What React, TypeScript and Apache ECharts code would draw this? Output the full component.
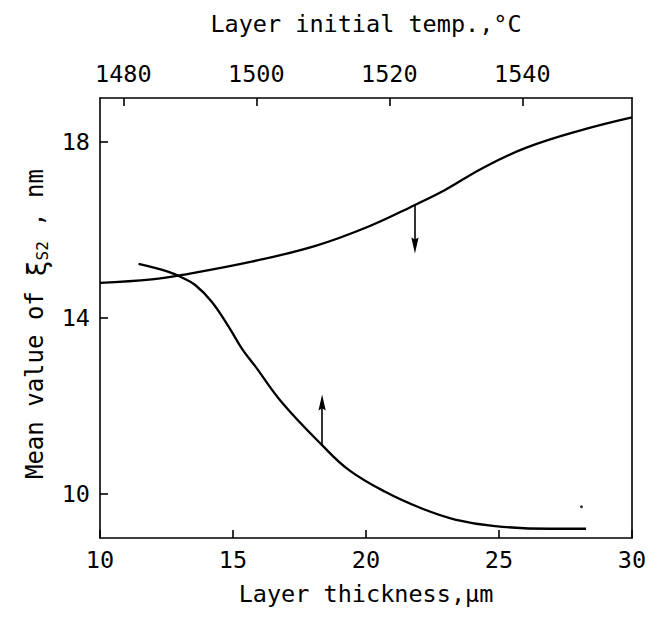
import React, { useEffect, useRef } from "react";
import * as echarts from "echarts";

// Bottom axis: layer thickness (µm)
const thicknessMin = 10;
const thicknessMax = 30;
const thicknessTicks = [10, 15, 20, 25, 30];

// Top axis: layer initial temperature (°C)
const tempMin = 1476.5;
const tempMax = 1556.5;
const tempTicks = [1480, 1500, 1520, 1540];

// Y axis: mean value of xi_S2 (nm)
const yMin = 9;
const yMax = 19;
const yTicks = [10, 14, 18];

// Rising curve (vs layer thickness)
const upperX = [10, 11.95, 13.1, 15.7, 18.1, 20.1, 21.84, 22.97, 24.36, 25.98, 28.1, 30];
const upperY = [14.8, 14.88, 14.98, 15.28, 15.64, 16.08, 16.57, 16.91, 17.4, 17.86, 18.27, 18.56];

// Falling curve
const lowerX = [11.45, 12.58, 13.08, 13.58, 14.2, 14.84, 15.34, 15.84, 16.84, 18.35, 19.35, 20.72, 22.1, 23.35, 24.85, 26.88, 28.27];
const lowerY = [15.23, 15.05, 14.92, 14.75, 14.37, 13.8, 13.3, 12.9, 12.08, 11.11, 10.55, 10.05, 9.67, 9.42, 9.27, 9.21, 9.21];

// Arrows: [x, yFrom, yTo] (yTo = centre of the arrow head)
const arrowUp = [18.35, 11.11, 12.08];
const arrowDown = [21.84, 16.57, 15.65];

// Small speck
const speck = [[28.1, 9.71]];

const MONO = "DejaVu Sans Mono";
const ARROW = "path://M5,0 L10,22 L5,19 L0,22 Z";

export default function App() {
  const ref = useRef<HTMLDivElement>(null);
  useEffect(() => {
    if (!ref.current) return;
    const chart = echarts.init(ref.current, null, { renderer: "svg" });
    const axisLine = { show: true, lineStyle: { color: "#000", width: 1.6 } };
    const labelStyle = { color: "#000", fontSize: 23.5, fontFamily: MONO, formatter: (v: number) => String(v) };
    const tickStyle = { show: true, inside: true, length: 8, lineStyle: { color: "#000", width: 1.6 } };
    const zip = (xs: number[], ys: number[]) => xs.map((x, i) => [x, ys[i]]);
    const arrowLine = (a: number[]) => ({
      silent: true,
      symbol: ["none", ARROW],
      symbolSize: 16,
      symbolKeepAspect: true,
      label: { show: false },
      emphasis: { disabled: true },
      itemStyle: { color: "#000" },
      lineStyle: { color: "#000", width: 1.6, type: "solid" },
      data: [[{ coord: [a[0], a[1]] }, { coord: [a[0], a[2]] }]],
    });
    chart.setOption({
      animation: false,
      backgroundColor: "#fff",
      grid: { left: 100, right: 33, top: 98, bottom: 93 },
      xAxis: [
        {
          type: "value",
          position: "bottom",
          min: thicknessMin,
          max: thicknessMax,
          axisLine,
          axisTick: { ...tickStyle, customValues: thicknessTicks },
          axisLabel: { ...labelStyle, margin: 10, customValues: thicknessTicks },
          splitLine: { show: false },
          name: "Layer thickness,µm",
          nameLocation: "middle",
          nameGap: 44,
          nameTextStyle: { color: "#000", fontSize: 23.5, fontFamily: MONO },
        },
        {
          type: "value",
          position: "top",
          min: tempMin,
          max: tempMax,
          axisLine,
          axisTick: { ...tickStyle, customValues: tempTicks },
          axisLabel: { ...labelStyle, margin: 12, customValues: tempTicks },
          splitLine: { show: false },
          name: "Layer initial temp.,°C",
          nameLocation: "middle",
          nameGap: 62,
          nameTextStyle: { color: "#000", fontSize: 23.5, fontFamily: MONO },
        },
      ],
      yAxis: [
        {
          type: "value",
          position: "left",
          min: yMin,
          max: yMax,
          axisLine,
          axisTick: { ...tickStyle, customValues: yTicks },
          axisLabel: { ...labelStyle, margin: 10, customValues: yTicks },
          splitLine: { show: false },
          name: "{a|Mean value of }{xi|ξ}{sub|S2}{a| , nm}",
          nameLocation: "middle",
          nameRotate: 90,
          nameGap: 50,
          nameTextStyle: {
            color: "#000",
            fontSize: 24,
            fontFamily: MONO,
            padding: [0, 12, 0, 0],
            rich: {
              a: { color: "#000", fontSize: 24, fontFamily: MONO, lineHeight: 24, verticalAlign: "top" },
              xi: { color: "#000", fontSize: 27, fontFamily: MONO, lineHeight: 27, verticalAlign: "top" },
              sub: { color: "#000", fontSize: 16, fontFamily: MONO, lineHeight: 16, verticalAlign: "bottom" },
            },
            lineHeight: 32,
          },
        },
        {
          type: "value",
          position: "right",
          min: yMin,
          max: yMax,
          axisLine,
          axisTick: { show: false },
          axisLabel: { show: false },
          splitLine: { show: false },
        },
      ],
      series: [
        {
          type: "line",
          xAxisIndex: 0,
          yAxisIndex: 0,
          data: zip(upperX, upperY),
          smooth: 0.4,
          symbol: "none",
          showSymbol: false,
          lineStyle: { color: "#000", width: 2.3 },
          markLine: arrowLine(arrowDown),
        },
        {
          type: "line",
          xAxisIndex: 0,
          yAxisIndex: 0,
          data: zip(lowerX, lowerY),
          smooth: 0.4,
          symbol: "none",
          showSymbol: false,
          lineStyle: { color: "#000", width: 2.3 },
          markLine: arrowLine(arrowUp),
        },
        {
          type: "scatter",
          xAxisIndex: 0,
          yAxisIndex: 0,
          data: speck,
          symbolSize: 3,
          itemStyle: { color: "#000" },
          silent: true,
        },
      ],
    });
    return () => chart.dispose();
  }, []);
  return <div ref={ref} style={{ position: "fixed", left: 0, top: 0, width: 665, height: 631 }} />;
}
